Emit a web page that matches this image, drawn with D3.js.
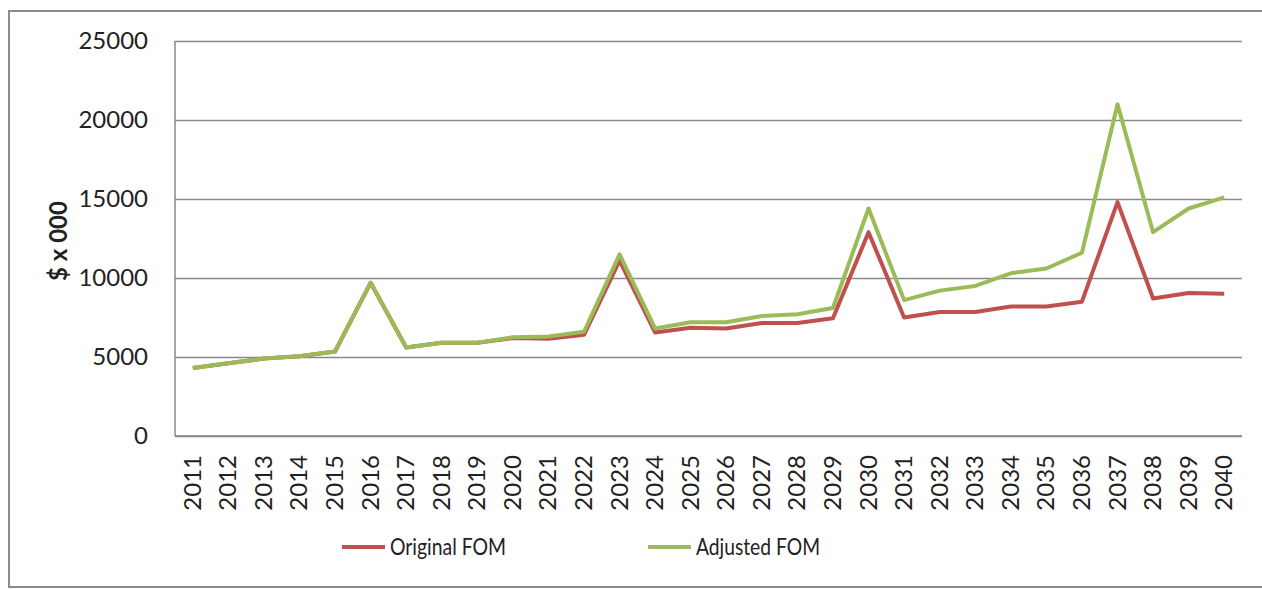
<!DOCTYPE html>
<html>
<head>
<meta charset="utf-8">
<script src="https://cdn.jsdelivr.net/npm/d3@7"></script>
<style>
  body { margin: 0; background: #fff; }
  text { font-family: Lato, "Open Sans", sans-serif; fill: #222; }
</style>
</head>
<body>
<script>
const years = d3.range(2011, 2041).map(String);

const originalFOM = [4300, 4600, 4900, 5050, 5350, 9700, 5600, 5900, 5900, 6200,
                     6150, 6400, 11100, 6550, 6850, 6800, 7150, 7150, 7450, 12900,
                     7500, 7850, 7850, 8200, 8200, 8500, 14800, 8700, 9050, 9000];

const adjustedFOM = [4300, 4600, 4900, 5050, 5350, 9700, 5600, 5900, 5900, 6250,
                     6300, 6600, 11500, 6800, 7200, 7200, 7600, 7700, 8100, 14400,
                     8600, 9200, 9500, 10300, 10600, 11600, 21000, 12900, 14400, 15100];

const yTicks = [0, 5000, 10000, 15000, 20000, 25000];

const series = [
  { name: "Original FOM", values: originalFOM, color: "#c0504d" },
  { name: "Adjusted FOM", values: adjustedFOM, color: "#9bbb59" }
];

const W = 1262, H = 590;
const plot = { left: 175, right: 1242, top: 41, bottom: 436 };

const svg = d3.select("body").append("svg")
    .attr("width", W)
    .attr("height", H);

// outer chart frame
svg.append("rect")
    .attr("x", 9).attr("y", 11)
    .attr("width", 1262).attr("height", 576)
    .attr("fill", "none")
    .attr("stroke", "#8c8c8c")
    .attr("stroke-width", 2);

const x = d3.scaleBand()
    .domain(years)
    .range([plot.left, plot.right]);

const y = d3.scaleLinear()
    .domain([0, 25000])
    .range([plot.bottom, plot.top]);

// gridlines + y labels
const yAxis = svg.append("g")
    .attr("transform", "translate(" + plot.left + ",0)")
    .call(d3.axisLeft(y).tickValues(yTicks).tickFormat(d3.format("d"))
        .tickSize(-(plot.right - plot.left)).tickPadding(27));
yAxis.select(".domain").remove();
yAxis.selectAll(".tick line")
    .attr("stroke", "#8a8a8a")
    .attr("stroke-width", 1.5);
yAxis.selectAll(".tick text")
    .style("font-size", "24px")
    .attr("fill", "#222");

// axis lines
svg.append("line")
    .attr("x1", plot.left).attr("x2", plot.left)
    .attr("y1", plot.top).attr("y2", plot.bottom)
    .attr("stroke", "#8a8a8a").attr("stroke-width", 1.5);
svg.append("line")
    .attr("x1", plot.left).attr("x2", plot.right)
    .attr("y1", plot.bottom).attr("y2", plot.bottom)
    .attr("stroke", "#8a8a8a").attr("stroke-width", 1.5);

// x labels, rotated
svg.append("g").selectAll("text")
    .data(years)
  .enter().append("text")
    .attr("transform", d => "translate(" + (x(d) + x.bandwidth() / 2 + 8) + "," + 455 + ") rotate(-90)")
    .attr("text-anchor", "end")
    .style("font-size", "24px")
    .text(d => d);

// y axis title
svg.append("text")
    .attr("transform", "translate(" + 67 + "," + 241 + ") rotate(-90)")
    .attr("text-anchor", "middle")
    .style("font-size", "24px")
    .style("font-weight", "bold")
    .text("$ x 000");

// lines
const line = d3.line()
    .x((d, i) => x(years[i]) + x.bandwidth() / 2)
    .y(d => y(d));

svg.append("g").selectAll("path")
    .data(series)
  .enter().append("path")
    .attr("d", d => line(d.values))
    .attr("fill", "none")
    .attr("stroke", d => d.color)
    .attr("stroke-width", 4)
    .attr("stroke-linejoin", "round");

// legend
const legendX = [342, 648];
const legendLen = [116, 124];
const legend = svg.append("g").selectAll("g")
    .data(series)
  .enter().append("g")
    .attr("transform", (d, i) => "translate(" + legendX[i] + ",547)");
legend.append("line")
    .attr("x1", 0).attr("x2", 43)
    .attr("stroke", d => d.color)
    .attr("stroke-width", 4);
legend.append("text")
    .attr("x", 48)
    .attr("dy", "0.35em")
    .style("font-size", "24px")
    .attr("textLength", (d, i) => legendLen[i])
    .attr("lengthAdjust", "spacingAndGlyphs")
    .text(d => d.name);
</script>
</body>
</html>
